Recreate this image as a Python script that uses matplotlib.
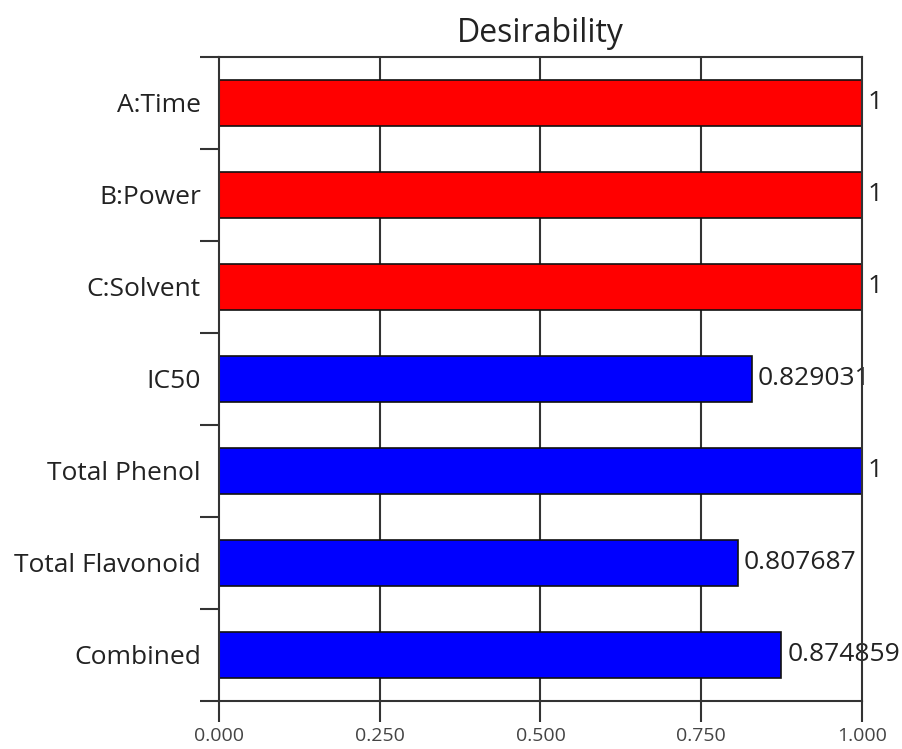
import matplotlib
matplotlib.use("Agg")
import matplotlib.pyplot as plt

# desirability per factor / response, top to bottom
labels = ["A:Time", "B:Power", "C:Solvent", "IC50", "Total Phenol", "Total Flavonoid", "Combined"]
values = [1, 1, 1, 0.829031, 1, 0.807687, 0.874859]
value_text = ["1", "1", "1", "0.829031", "1", "0.807687", "0.874859"]
colors = ["#ff0000", "#ff0000", "#ff0000", "#0000ff", "#0000ff", "#0000ff", "#0000ff"]
xticks = [0.0, 0.25, 0.5, 0.75, 1.0]

plt.rcParams["font.family"] = ["Open Sans", "DejaVu Sans"]
INK = "#333333"
TXT = "#222222"

fig = plt.figure(figsize=(9.03, 7.49), dpi=100)
ax = fig.add_axes([0.2425, 0.0641, 0.712, 0.8598])

n = len(labels)
ypos = [n - 0.5 - i for i in range(n)]
for xv in xticks[1:-1]:
    ax.axvline(xv, color=INK, lw=1.5, zorder=0)
ax.barh(ypos, values, height=0.5, color=colors, edgecolor="#111111", lw=1.2, zorder=2)
for y, v, t in zip(ypos, values, value_text):
    ax.text(v + 0.009, y, t, ha="left", va="center", fontsize=19, color=TXT, zorder=1)

ax.set_xlim(0, 1)
ax.set_ylim(0, n)
ax.set_xticks(xticks)
ax.set_xticklabels([f"{x:.3f}" for x in xticks], fontsize=14, color="#444444")
ax.set_yticks(range(n + 1))
ax.set_yticklabels([])
ax.set_yticks(ypos, minor=True)
ax.set_yticklabels(labels, minor=True, fontsize=19, color=TXT)
ax.tick_params(axis="y", which="major", length=14, width=1.5, color=INK)
ax.tick_params(axis="y", which="minor", length=0, pad=13)
ax.tick_params(axis="x", length=15, width=1.5, color=INK, pad=4)
for s in ax.spines.values():
    s.set_color(INK)
    s.set_linewidth(1.5)
ax.set_title("Desirability", fontsize=23, color=TXT, pad=11)

fig.savefig("out.png", dpi=100)
